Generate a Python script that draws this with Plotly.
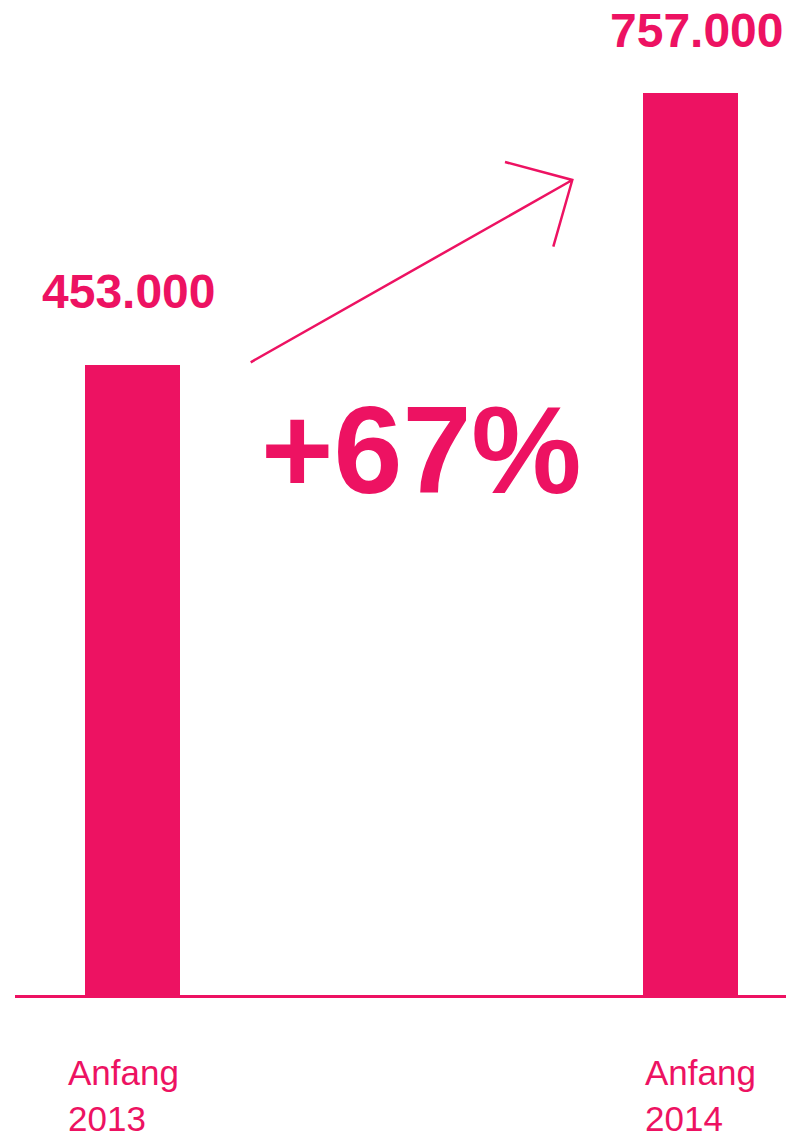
import numpy as np
import plotly.graph_objects as go

# Werte aus der Grafik
jahre = ['Anfang<br>2013', 'Anfang<br>2014']
werte = [453000, 757000]
zuwachs = '+67%'

PINK = '#ED1262'
OFF = 8                   # body-Rand der Seite
W, H = 794 - 2 * OFF, 1136 - OFF
ML, MB = 15 - OFF, 141    # Rand links / unten in px
PLOT_W, PLOT_H = W - ML, H - MB


def paper(px, py):  # Seiten-Pixel -> paper Koordinaten
    return (px - OFF - ML) / PLOT_W, (PLOT_H - (py - OFF)) / PLOT_H


def deutsch(v):
    return f'{v:,}'.replace(',', '.')


fig = go.Figure(go.Bar(x=jahre, y=werte, width=0.171, marker=dict(color=PINK, line=dict(width=0)),
                       hoverinfo='skip'))

# Werte ueber den Balken
label_shift = [(-4, 74), (6, 63)]
for kat, v, (dx, dy) in zip(jahre, werte, label_shift):
    fig.add_annotation(x=kat, y=np.log10(v), text=deutsch(v), showarrow=False, xanchor='center',
                       yanchor='middle', xshift=dx, yshift=dy,
                       font=dict(family='Liberation Sans', size=48, color=PINK, weight='bold'))

# Beschriftung unter der Achse, linksbuendig
kat_shift = [-67, -48]
for kat, dx in zip(jahre, kat_shift):
    fig.add_annotation(x=kat, y=0, yref='paper', text=kat, showarrow=False, xanchor='left',
                       yanchor='top', align='left', xshift=dx, yshift=-56,
                       font=dict(family='Liberation Sans', size=35, color=PINK))

# +67% in der Mitte
mx, my = paper(421, 450)
fig.add_annotation(x=mx, y=my, xref='paper', yref='paper',
                   text=zuwachs, showarrow=False, xanchor='center', yanchor='middle',
                   font=dict(family='Liberation Sans', size=124, color=PINK, weight='bold'))

# offener Pfeil
start, tip, arm1, arm2 = paper(250.7, 362.3), paper(572.3, 180), paper(505, 162), paper(553.3, 246.7)
pfad = (f'M {start[0]} {start[1]} L {tip[0]} {tip[1]} '
        f'M {arm1[0]} {arm1[1]} L {tip[0]} {tip[1]} L {arm2[0]} {arm2[1]}')
fig.add_shape(type='path', xref='paper', yref='paper', path=pfad, line=dict(color=PINK, width=2.5))

fig.update_layout(
    width=W, height=H, margin=dict(l=ML, r=0, t=0, b=MB),
    plot_bgcolor='white', paper_bgcolor='white', showlegend=False, bargap=0,
    xaxis=dict(type='category', range=[-0.2109, 1.1708], showticklabels=False, showgrid=False,
               zeroline=False, showline=True, linecolor=PINK, linewidth=3, ticks=''),
    # log-Achse, damit die (nicht massstabsgetreuen) Balken wie im Original stehen
    yaxis=dict(type='log', range=[5.13903, 5.94911], visible=False, showgrid=False),
)

fig.write_html('out.html')
